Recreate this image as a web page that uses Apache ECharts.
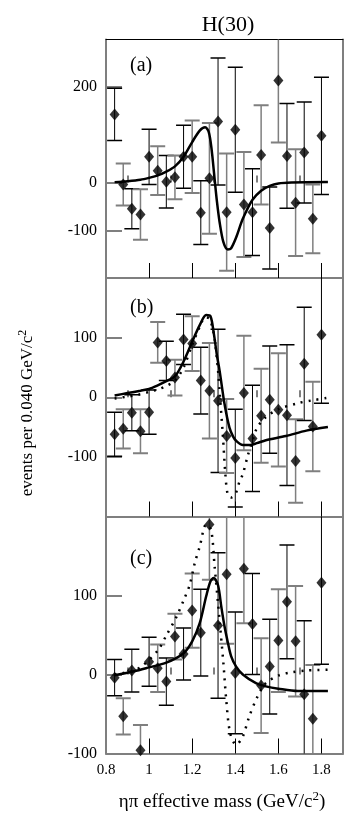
<!DOCTYPE html>
<html><head><meta charset="utf-8">
<script src="https://cdn.jsdelivr.net/npm/echarts@6/dist/echarts.min.js"></script>
<style>html,body{margin:0;padding:0;background:#fff}#c{width:346px;height:819px}</style>
</head><body><div id="c"></div>
<script>
// ---- data ----
const mass = [0.84,0.88,0.92,0.96,1.00,1.04,1.08,1.12,1.16,1.20,1.24,1.28,1.32,1.36,1.40,1.44,1.48,1.52,1.56,1.60,1.64,1.68,1.72,1.76,1.80];
const valuesA = [143,-4,-55,-67,54,25,2,11,54,54,-63,9,128,-62,111,-46,-62,58,-95,214,56,-42,63,-76,98];
const errorsA = [55,44,42,53,58,51,55,46,66,76,67,116,133,123,131,110,91,104,86,130,110,112,106,72,123];
const valuesB = [-62,-53,-26,-57,-25,92,61,33,97,90,28,11,-6,-65,-102,7,-69,-31,-4,-21,-30,-107,56,-49,105];
const errorsB = [37,33,30,37,37,34,33,30,42,46,56,80,120,62,82,96,89,79,90,95,118,70,95,75,115];
const valuesC = [-4,-53,5,-96,16,8,-9,48,26,81,53,190,62,127,2,134,64,-14,10,43,92,42,-25,-56,116];
const errorsC = [23,23,27,32,31,30,30,29,33,47,55,70,92,88,77,69,64,60,60,65,72,70,93,68,103];

const fitA = [[0.84,1],[0.90,3],[0.96,6],[1.00,10],[1.04,15],[1.08,23],[1.12,34],[1.16,54],[1.20,85],[1.235,109],[1.26,116],[1.277,106],[1.29,70],[1.304,8],[1.315,-40],[1.327,-82],[1.345,-125],[1.365,-140],[1.38,-138],[1.404,-115],[1.435,-76],[1.48,-36],[1.52,-17],[1.56,-7],[1.60,-2],[1.66,0],[1.83,1]];
const fitB = [[0.84,3],[0.90,7],[0.96,11],[1.00,14],[1.04,20],[1.08,27],[1.12,35],[1.16,60],[1.20,93],[1.235,121],[1.265,138],[1.285,136],[1.30,108],[1.315,70],[1.327,45],[1.35,-11],[1.373,-51],[1.39,-66],[1.404,-73],[1.435,-80],[1.47,-80],[1.50,-77],[1.542,-72],[1.635,-65],[1.73,-56],[1.83,-50]];
const altB = [[0.84,-2],[0.90,1],[0.96,5],[1.00,9],[1.04,13],[1.08,19],[1.12,28],[1.16,50],[1.20,88],[1.235,118],[1.26,134],[1.28,132],[1.295,115],[1.304,99],[1.32,45],[1.327,11],[1.342,-62],[1.354,-129],[1.365,-163],[1.38,-168],[1.40,-163],[1.42,-141],[1.435,-129],[1.458,-98],[1.48,-73],[1.50,-52],[1.54,-34],[1.60,-20],[1.69,-10],[1.76,-5],[1.83,-1]];
const fitC = [[0.84,-1],[0.93,4],[1.00,9],[1.08,15],[1.16,27],[1.20,42],[1.235,65],[1.265,99],[1.285,118],[1.30,122],[1.32,113],[1.335,86],[1.35,61],[1.366,40],[1.381,23],[1.404,10],[1.435,0],[1.496,-11],[1.542,-15],[1.60,-18],[1.69,-21],[1.83,-21]];
const altC = [[0.84,0],[0.93,5],[0.973,12],[1.042,31],[1.081,50],[1.127,73],[1.165,97],[1.188,113],[1.212,141],[1.235,162],[1.265,190],[1.288,183],[1.304,137],[1.327,69],[1.345,14],[1.358,-32],[1.376,-74],[1.404,-89],[1.434,-79],[1.465,-53],[1.503,-28],[1.542,-11],[1.603,-1],[1.665,3],[1.726,5],[1.834,6]];

const xTickLabels = [0.8,1.0,1.2,1.4,1.6,1.8];
const xMajorTicks = [1.0,1.2,1.4,1.6,1.8];
const xMinorTicks = [0.9,1.1,1.3,1.5,1.7];
const yLabelsA = [-100,0,200];
const yLabelsB = [-100,0,100];
const yLabelsC = [-100,0,100];
const yRangeA = [-200,300];
const yRangeB = [-200,200];
const yRangeC = [-100,200];
const panelNames = ['(a)','(b)','(c)'];

// ---- chart ----
const FONT = 'Liberation Serif, Times New Roman, serif';
const GREY = '#7f7f7f';
const chart = echarts.init(document.getElementById('c'), null, {renderer:'canvas'});
const grids = [
  {left:106, right:3, top:39.5, height:238.5},
  {left:106, right:3, top:278, height:238.5},
  {left:106, right:3, top:516.5, height:237}
];
const panels = [
  {v:valuesA, e:errorsA, fit:fitA, alt:null, yl:yLabelsA, yr:yRangeA},
  {v:valuesB, e:errorsB, fit:fitB, alt:altB, yl:yLabelsB, yr:yRangeB},
  {v:valuesC, e:errorsC, fit:fitC, alt:altC, yl:yLabelsC, yr:yRangeC}
];
const xAxes = [], yAxes = [], series = [];
panels.forEach((p, i) => {
  const xi = xAxes.length;
  xAxes.push({
    gridIndex:i, type:'value', min:0.8, max:1.9, position:'bottom',
    axisLine:{show:true, onZero:false, lineStyle:{color:GREY, width:2}},
    axisTick:{show:true, inside:true, length:15, customValues:xMajorTicks, lineStyle:{color:'#000', width:1}},
    axisLabel:{show:i===2, customValues:xTickLabels, margin:9, color:'#000', fontFamily:FONT, fontSize:15,
      formatter:v => String(parseFloat(Number(v).toFixed(1)))},
    splitLine:{show:false}
  });
  xAxes.push({
    gridIndex:i, type:'value', min:0.8, max:1.9, position:'bottom',
    axisLine:{show:false},
    axisTick:{show:true, inside:true, length:7, customValues:xMinorTicks, lineStyle:{color:GREY, width:2}},
    axisLabel:{show:false}, splitLine:{show:false}
  });
  if (i === 0) {
    xAxes.push({gridIndex:0, type:'value', min:0.8, max:1.9, position:'top',
      axisLine:{show:true, onZero:false, lineStyle:{color:'#000', width:1}},
      axisTick:{show:false}, axisLabel:{show:false}, splitLine:{show:false}});
  }
  const yi = yAxes.length;
  yAxes.push({
    gridIndex:i, type:'value', min:p.yr[0], max:p.yr[1], position:'left',
    axisLine:{show:true, onZero:false, lineStyle:{color:GREY, width:2}},
    axisTick:{show:true, inside:true, length:16, customValues:p.yl, lineStyle:{color:GREY, width:2}},
    axisLabel:{customValues:p.yl, margin:9, color:'#000', fontFamily:FONT, fontSize:16},
    splitLine:{show:false}
  });
  yAxes.push({
    gridIndex:i, type:'value', min:p.yr[0], max:p.yr[1], position:'right',
    axisLine:{show:true, onZero:false, lineStyle:{color:GREY, width:2}},
    axisTick:{show:false}, axisLabel:{show:false}, splitLine:{show:false}
  });
  const pts = mass.map((m, k) => [m, p.v[k], p.e[k]]);
  series.push({
    type:'custom', xAxisIndex:xi, yAxisIndex:yi, clip:true, z:2, data:pts,
    renderItem:(params, api) => {
      const x = api.value(0), y = api.value(1), e = api.value(2);
      const t = api.coord([x, y + e]), b = api.coord([x, y - e]);
      const grey = params.dataIndex % 2 === 1;
      const col = grey ? GREY : '#000';
      const lw = grey ? 1.5 : 1;
      const hw = 7.5;
      return {type:'group', children:[
        {type:'line', shape:{x1:t[0], y1:t[1], x2:b[0], y2:b[1]}, style:{stroke:col, lineWidth:lw}},
        {type:'line', shape:{x1:t[0]-hw, y1:t[1], x2:t[0]+hw, y2:t[1]}, style:{stroke:col, lineWidth:lw+0.5}},
        {type:'line', shape:{x1:b[0]-hw, y1:b[1], x2:b[0]+hw, y2:b[1]}, style:{stroke:col, lineWidth:lw+0.5}}
      ]};
    }
  });
  series.push({
    type:'scatter', xAxisIndex:xi, yAxisIndex:yi, clip:true, z:5, symbol:'diamond', symbolSize:[10,12],
    itemStyle:{color:'#000'}, data:mass.map((m, k) => [m, p.v[k]])
  });
  series.push({
    type:'line', xAxisIndex:xi, yAxisIndex:yi, z:4, showSymbol:false, smooth:0.3, clip:true,
    lineStyle:{color:'#000', width:2.5}, data:p.fit
  });
  if (p.alt) {
    series.push({
      type:'line', xAxisIndex:xi, yAxisIndex:yi, z:4, showSymbol:false, smooth:0.3, clip:true,
      lineStyle:{color:'#000', width:2.5, type:[2,6], cap:'butt'}, data:p.alt
    });
  }
});

const titles = [{text:'H(30)', left:223, top:9, textAlign:'center',
  textStyle:{fontFamily:FONT, fontSize:22, fontWeight:'normal', color:'#000'}}];
const labelTops = [51, 293, 544];
panelNames.forEach((n, i) => titles.push({text:n, left:125, top:labelTops[i],
  textStyle:{fontFamily:FONT, fontSize:20, fontWeight:'normal', color:'#000'}}));

chart.setOption({
  animation:false,
  title:titles,
  grid:grids,
  xAxis:xAxes,
  yAxis:yAxes,
  series:series,
  graphic:[
    {type:'text', x:28, y:413, rotation:Math.PI/2, style:{
      text:'events per 0.040 GeV/c{s|2}', align:'center', verticalAlign:'middle',
      font:'17px ' + FONT, fill:'#000',
      rich:{s:{font:'12px ' + FONT, padding:[0,0,10,0]}}}},
    {type:'text', x:222, y:802, style:{
      text:'ηπ effective mass (GeV/c{s|2})', align:'center', verticalAlign:'middle',
      font:'19px ' + FONT, fill:'#000',
      rich:{s:{font:'13px ' + FONT, padding:[0,0,11,0]}}}}
  ]
});
</script></body></html>
